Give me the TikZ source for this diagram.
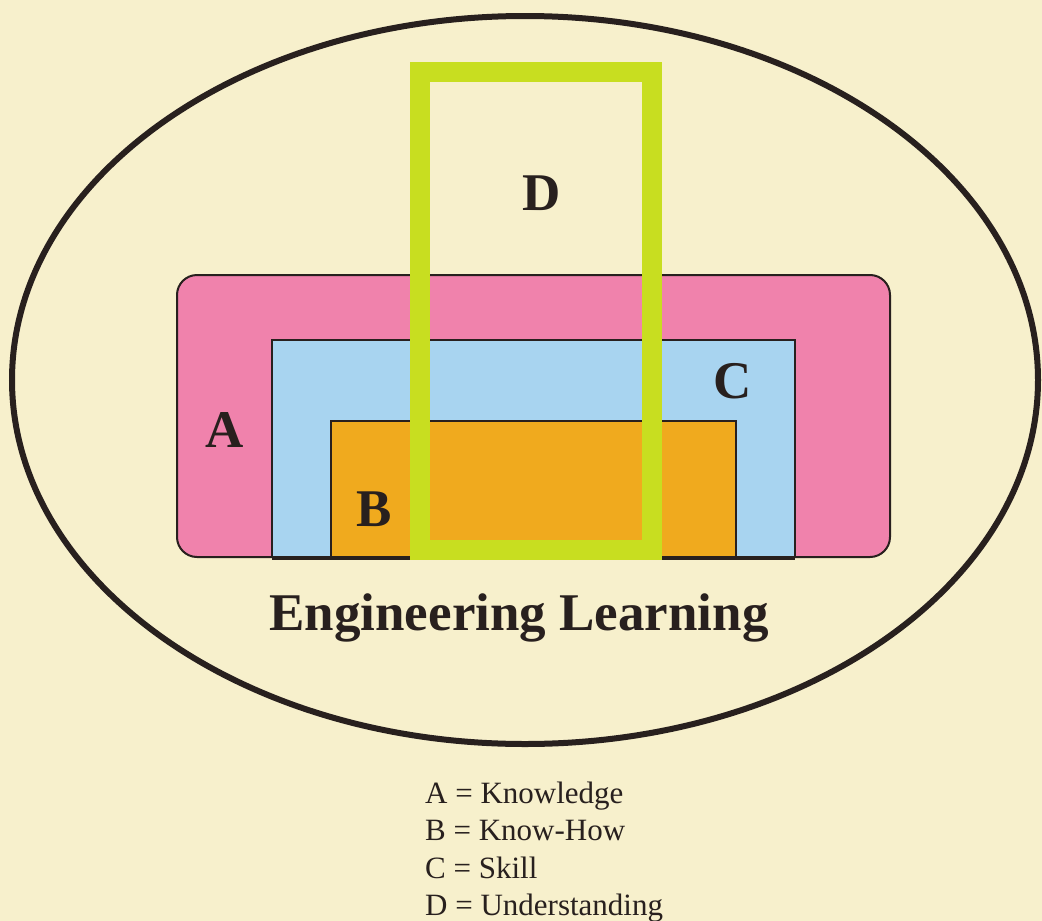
\documentclass[tikz,border=0pt]{standalone}
\usepackage{fontspec}
\setmainfont{Liberation Serif}
\usepackage{tikz}
\usetikzlibrary{positioning}
\definecolor{elcream}{RGB}{247,240,204}
\definecolor{elink}{RGB}{40,32,30}
\definecolor{elpink}{RGB}{240,130,172}
\definecolor{elblue}{RGB}{168,212,240}
\definecolor{elorange}{RGB}{240,170,30}
\definecolor{elgreen}{RGB}{200,222,32}

\begin{document}
\begin{tikzpicture}[x=1pt, y=-1pt,
  letter/.style={font=\fontsize{53}{53}\selectfont\bfseries, text=elink, anchor=base, inner sep=0pt},
  keyline/.style={font=\fontsize{31}{31}\selectfont, text=elink, anchor=base west, inner sep=0pt},
  box/.style={draw=elink, line width=2pt}]

% Page and outer ellipse
\fill[elcream] (0,0) rectangle (1042,921);
\useasboundingbox (0,0) rectangle (1042,921);
\draw[elink, line width=6pt] (525,380) ellipse [x radius=513, y radius=364];

% A: Knowledge
\draw[box, fill=elpink, rounded corners=20pt] (177,275) rectangle (890,557);
% C: Skill
\draw[box, fill=elblue] (272,340) rectangle (795,557);
% B: Know-How
\draw[box, fill=elorange] (331,421) rectangle (736,557);
\draw[elink, line width=4pt] (272,557.5) -- (795,557.5);

% D: Understanding
\draw[elgreen, line width=20pt] (420,72) rectangle (652,550);

% Letters
\node[letter] (la) at (225,447) {A};
\node[letter] (lb) at (374,526) {B};
\node[letter] (lc) at (733,398) {C};
\node[letter] (ld) at (542,210) {D};

\node[letter] (title) at (519,630) {Engineering Learning};

% Key
\node[keyline] (keya) at (425,803) {A = Knowledge};
\node[keyline] (keyb) at (425,840.5) {B = Know-How};
\node[keyline] (keyc) at (425,878) {C = Skill};
\node[keyline] (keyd) at (425,915.5) {D = Understanding};

\end{tikzpicture}
\end{document}
